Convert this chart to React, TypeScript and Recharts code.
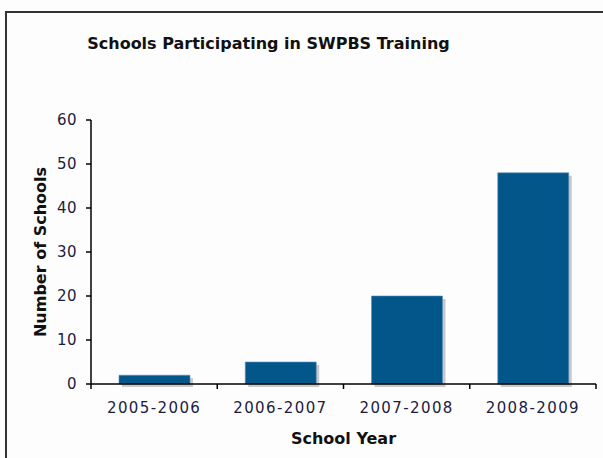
import { BarChart, Bar, XAxis, YAxis, Rectangle } from 'recharts'

const years = ['2005-2006', '2006-2007', '2007-2008', '2008-2009']
const schools = [2, 5, 20, 48]
const yTicks = [0, 10, 20, 30, 40, 50, 60]

const data = years.map((year, i) => ({ year, schools: schools[i] }))

const FONT = '"DejaVu Sans", Verdana, sans-serif'
const TEXT = '#1c1c40'

// bar with a soft grey drop shadow, like the old Excel export
const ShadowBar = (props: any) => {
  const { x, y, width, height } = props
  return (
    <g>
      <Rectangle x={x + 3} y={y + 3} width={width} height={height} fill="#c9c9c9" />
      <Rectangle x={x} y={y} width={width} height={height} fill="#02568a" stroke="#5e90b8" strokeWidth={0.6} />
    </g>
  )
}

// category tick: label at centre, tick marks at the band edges
const YearTick = (props: any) => {
  const { x, y, payload, index } = props
  const half = payload?.offset ?? 63
  return (
    <g>
      {index === 0 && <line x1={x - half} y1={y} x2={x - half} y2={y + 5} stroke="#000" strokeWidth={1.5} />}
      <line x1={x + half} y1={y} x2={x + half} y2={y + 5} stroke="#000" strokeWidth={1.5} />
      <text x={x} y={y + 29} textAnchor="middle" fontFamily={FONT} fontSize={15} letterSpacing={1.4} fill={TEXT}>
        {payload.value}
      </text>
    </g>
  )
}

export default function App() {
  return (
    <div style={{ position: 'absolute', left: 0, top: 0, width: 603, height: 458, overflow: 'hidden', background: '#fdfdfe' }}>
      <div style={{ position: 'absolute', left: 5, top: 11, width: 700, height: 600, borderLeft: '2px solid #333', borderTop: '2px solid #333' }} />
      <div style={{ position: 'absolute', left: 0, width: 537, top: 34, textAlign: 'center', fontFamily: FONT, fontWeight: 'bold', fontSize: 16, color: '#111' }}>
        Schools Participating in SWPBS Training
      </div>
      <BarChart
        width={603}
        height={458}
        data={data}
        margin={{ top: 120, right: 7, bottom: 14, left: 31 }}
        style={{ position: 'absolute', left: 0, top: 0 }}
      >
        <XAxis
          dataKey="year"
          height={60}
          axisLine={{ stroke: '#000', strokeWidth: 1.5 }}
          tickLine={false}
          tickSize={0}
          tickMargin={0}
          tick={<YearTick />}
          interval={0}
          label={{ value: 'School Year', position: 'center', dy: 24, fontFamily: FONT, fontSize: 16, fontWeight: 'bold', fill: '#111' }}
        />
        <YAxis
          width={60}
          domain={[0, 60]}
          ticks={yTicks}
          interval={0}
          axisLine={{ stroke: '#000', strokeWidth: 1.5 }}
          tickLine={{ stroke: '#000', strokeWidth: 1.5 }}
          tickSize={5}
          tickMargin={9}
          tick={{ fontFamily: FONT, fontSize: 15, letterSpacing: 0.5, fill: TEXT }}
          label={{ value: 'Number of Schools', angle: -90, position: 'center', dx: -21, fontFamily: FONT, fontSize: 16, fontWeight: 'bold', fill: '#111' }}
        />
        <Bar dataKey="schools" barSize={71} shape={<ShadowBar />} isAnimationActive={false} />
      </BarChart>
    </div>
  )
}
